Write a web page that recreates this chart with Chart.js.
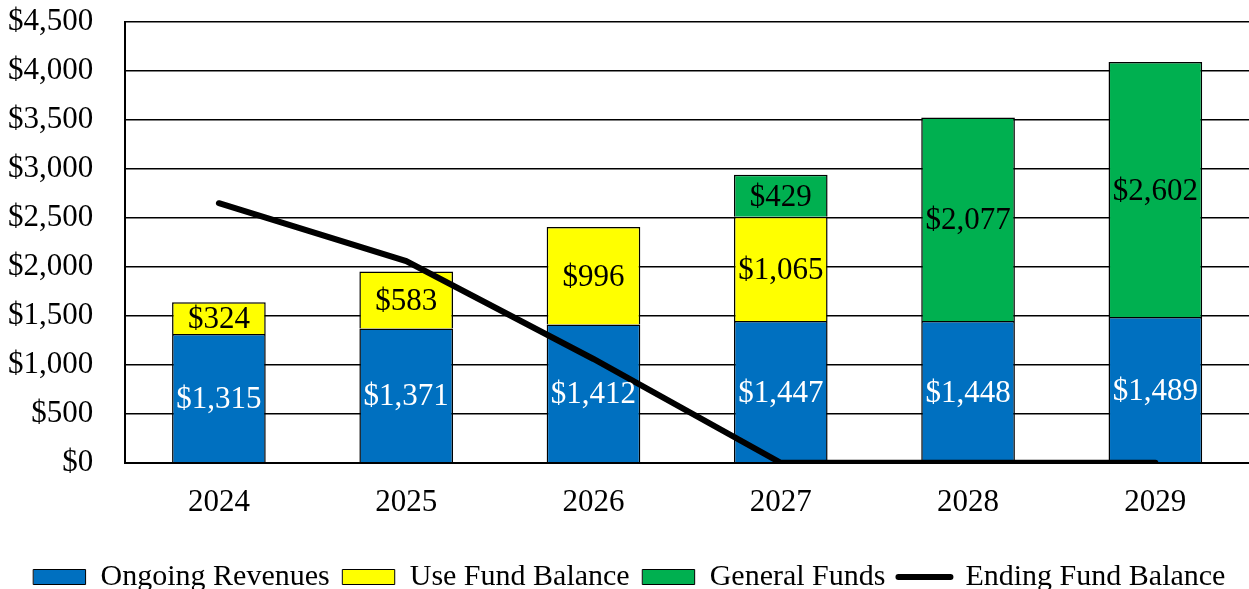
<!DOCTYPE html>
<html>
<head>
<meta charset="utf-8">
<script src="https://cdn.jsdelivr.net/npm/chart.js@4"></script>
<style>
  body { margin: 0; background: #fff; }
  #wrap { width: 1249px; height: 589px; }
</style>
</head>
<body>
<div id="wrap"><canvas id="fundChart"></canvas></div>
<script>
// Fund chart - revenues, fund balance use and general funds by year
const years = ['2024', '2025', '2026', '2027', '2028', '2029'];
const ongoingRevenues = [1315, 1371, 1412, 1447, 1448, 1489];
const useFundBalance = [324, 583, 996, 1065, null, null];
const generalFunds = [null, null, null, 429, 2077, 2602];
const endingFundBalance = [2650, 2060, 1060, 0, 0, 0];
const yTicks = [0, 500, 1000, 1500, 2000, 2500, 3000, 3500, 4000, 4500];

const serif = 'Liberation Serif, Times New Roman, serif';
const money = v => '$' + v.toLocaleString('en-US');

// draw the value in the middle of every bar segment
const barLabels = {
    id: 'barLabels',
    afterDatasetsDraw(chart) {
        const ctx = chart.ctx;
        ctx.save();
        ctx.font = '31px ' + serif;
        ctx.textAlign = 'center';
        ctx.textBaseline = 'middle';
        chart.data.datasets.forEach((ds, i) => {
            if (ds.type === 'line') return;
            const meta = chart.getDatasetMeta(i);
            meta.data.forEach((bar, j) => {
                const v = ds.data[j];
                if (v == null) return;
                ctx.fillStyle = ds.labelColor;
                ctx.fillText(money(v), bar.x, (bar.y + bar.base) / 2 + 2);
            });
        });
        ctx.restore();
    }
};

const fund = document.getElementById('fundChart');
const fundChart = new Chart(fund, {
    type: 'bar',
    data: {
        labels: years,
        datasets: [{
            type: 'line',
            label: 'Ending Fund Balance',
            data: endingFundBalance,
            borderColor: '#000',
            backgroundColor: '#000',
            borderWidth: 6,
            pointRadius: 0,
            tension: 0,
            borderCapStyle: 'round',
            stack: 'line',
            order: 0
        }, {
            label: 'Ongoing Revenues',
            data: ongoingRevenues,
            backgroundColor: 'rgb(0, 112, 192)',
            labelColor: '#fff',
            stack: 'bars',
            order: 1
        }, {
            label: 'Use Fund Balance',
            data: useFundBalance,
            backgroundColor: 'rgb(255, 255, 0)',
            labelColor: '#000',
            stack: 'bars',
            order: 1
        }, {
            label: 'General Funds',
            data: generalFunds,
            backgroundColor: 'rgb(0, 176, 80)',
            labelColor: '#000',
            stack: 'bars',
            order: 1
        }]
    },
    options: {
        responsive: true,
        maintainAspectRatio: false,
        animation: false,
        layout: { padding: { left: 8, right: -2, top: 22, bottom: -13 } },
        datasets: {
            bar: {
                borderColor: '#000',
                borderWidth: 1.5,
                barPercentage: 0.5,
                categoryPercentage: 1
            }
        },
        plugins: {
            tooltip: { enabled: false },
            legend: {
                position: 'bottom',
                labels: {
                    color: '#000',
                    font: { family: serif, size: 30 },
                    usePointStyle: true,
                    pointStyleWidth: 52,
                    boxHeight: 15,
                    padding: 13,
                    sort: (a, b) => a.datasetIndex === 0 ? 1 : (b.datasetIndex === 0 ? -1 : a.datasetIndex - b.datasetIndex),
                    generateLabels: chart => chart.data.datasets.map((ds, i) => ({
                        text: ds.label,
                        datasetIndex: i,
                        fillStyle: ds.backgroundColor,
                        strokeStyle: '#000',
                        lineWidth: ds.type === 'line' ? 6 : 1,
                        lineCap: 'round',
                        pointStyle: ds.type === 'line' ? 'line' : 'rect',
                        hidden: false,
                        fontColor: '#000'
                    }))
                }
            }
        },
        scales: {
            x: {
                stacked: true,
                grid: { display: false, drawTicks: false },
                border: { color: '#000', width: 2 },
                ticks: {
                    color: '#000',
                    padding: 21,
                    font: { family: serif, size: 31 }
                },
                afterFit: axis => {
                    axis.paddingLeft = 0;
                    axis.paddingRight = 0;
                    axis.height += 7;
                }
            },
            y: {
                stacked: true,
                min: 0,
                max: yTicks[yTicks.length - 1],
                afterBuildTicks: axis => { axis.ticks = yTicks.map(v => ({ value: v })); },
                grid: { color: '#000', lineWidth: 1.5, drawTicks: false },
                border: { color: '#000', width: 2 },
                ticks: {
                    color: '#000',
                    padding: 32,
                    font: { family: serif, size: 31 },
                    callback: v => money(v)
                },
                afterFit: axis => {
                    axis.paddingTop = 0;
                    axis.paddingBottom = 0;
                    axis.width -= 32;
                }
            }
        }
    },
    plugins: [barLabels]
});
</script>
</body>
</html>
